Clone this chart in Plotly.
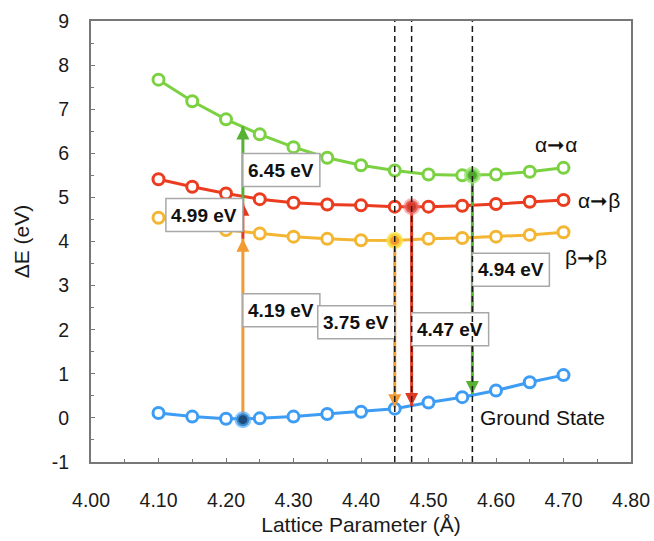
import plotly.graph_objects as go

# ---------------- data ----------------
lattice = [4.10, 4.15, 4.20, 4.25, 4.30, 4.35, 4.40, 4.45, 4.50, 4.55, 4.60, 4.65, 4.70]
alpha_alpha = [7.67, 7.18, 6.77, 6.43, 6.14, 5.90, 5.73, 5.61, 5.52, 5.50, 5.52, 5.58, 5.67]
alpha_beta = [5.41, 5.24, 5.09, 4.96, 4.88, 4.84, 4.82, 4.79, 4.79, 4.81, 4.85, 4.90, 4.94]
beta_beta = [4.54, 4.38, 4.26, 4.18, 4.11, 4.06, 4.03, 4.02, 4.06, 4.08, 4.11, 4.15, 4.21]
ground = [0.11, 0.03, -0.02, -0.01, 0.03, 0.09, 0.14, 0.21, 0.35, 0.47, 0.62, 0.81, 0.97]

series_names = ["Ground State", "β→β", "α→β", "α→α"]
series_colors = ["#3d9cf3", "#f4b632", "#eb3c1f", "#7bd142"]

# highlighted (equilibrium) points
hl_x = [4.225, 4.45, 4.475, 4.565]
hl_y = [-0.04, 4.02, 4.79, 5.50]
hl_fill = ["#1b4c7c", "#f09a2e", "#d73a2b", "#4ea52f"]
hl_halo = ["rgba(80,170,250,0.65)", "rgba(250,228,70,0.75)",
           "rgba(240,120,120,0.55)", "rgba(150,230,110,0.75)"]

# vertical transition arrows: x, start, end, colour
arrow_x = [4.225, 4.225, 4.225, 4.45, 4.475, 4.565]
arrow_y0 = [-0.04, 4.06, 4.88, 4.02, 4.79, 5.50]
arrow_y1 = [4.06, 4.88, 6.61, 0.24, 0.27, 0.54]
arrow_col = ["#f39a33", "#e03a25", "#55b233", "#f39a33", "#e03a25", "#55b233"]

# transition energy labels: text, anchor x, side of anchor, centre y
lab_text = ["6.45 eV", "4.99 eV", "4.19 eV", "3.75 eV", "4.47 eV", "4.94 eV"]
lab_x = [4.225, 4.225, 4.225, 4.45, 4.475, 4.565]
lab_side = ["left", "right", "left", "right", "left", "left"]
lab_y = [5.62, 4.60, 2.44, 2.17, 2.01, 3.36]

# curve labels
curve_text = ["α➞α", "α➞β", "β➞β", "Ground State"]
curve_x = [4.689, 4.752, 4.734, 4.574]
curve_y = [6.19, 4.92, 3.63, 0.02]
curve_anchor = ["center", "center", "center", "left"]

# dashed guide lines
guide_x = [4.45, 4.475, 4.565]

x_ticks = [4.00, 4.10, 4.20, 4.30, 4.40, 4.50, 4.60, 4.70, 4.80]
x_ticktext = ["4.00", "4.10", "4.20", "4.30", "4.40", "4.50", "4.60", "4.70", "4.80"]
y_ticks = [-1, 0, 1, 2, 3, 4, 5, 6, 7, 8, 9]
y_ticktext = ["-1", "0", "1", "2", "3", "4", "5", "6", "7", "8", "9"]

FONT = "Liberation Sans, Arial, Helvetica, sans-serif"
BOX_W = 77
BOX_H = 33

fig = go.Figure()

series_vals = [ground, beta_beta, alpha_beta, alpha_alpha]
for name, vals, col in zip(series_names, series_vals, series_colors):
    fig.add_trace(go.Scatter(
        x=lattice, y=vals, mode="lines+markers", name=name,
        line=dict(color=col, width=3),
        marker=dict(size=11, color="white", line=dict(color=col, width=3)),
        showlegend=False, hoverinfo="skip"))

# arrow shafts
for x, y0, y1, c in zip(arrow_x, arrow_y0, arrow_y1, arrow_col):
    fig.add_trace(go.Scatter(x=[x, x], y=[y0, y1], mode="lines",
                             line=dict(color=c, width=3),
                             showlegend=False, hoverinfo="skip"))

# highlighted points
fig.add_trace(go.Scatter(
    x=hl_x, y=hl_y, mode="markers",
    marker=dict(size=13, color=hl_fill, line=dict(color=hl_halo, width=4)),
    showlegend=False, hoverinfo="skip"))

# arrow heads (tip at the data point)
for x, y0, y1, c in zip(arrow_x, arrow_y0, arrow_y1, arrow_col):
    fig.add_trace(go.Scatter(
        x=[x], y=[y1], mode="markers",
        marker=dict(symbol="arrow-up" if y1 > y0 else "arrow-down",
                    size=13, color=c, line=dict(width=0)),
        showlegend=False, hoverinfo="skip"))

shapes = []
annotations = []
for t, x, side, y in zip(lab_text, lab_x, lab_side, lab_y):
    x0, x1 = (0, BOX_W) if side == "left" else (-BOX_W, 0)
    shapes.append(dict(
        type="rect", layer="above",
        xref="x", yref="y", xsizemode="pixel", ysizemode="pixel",
        xanchor=x, yanchor=y, x0=x0, x1=x1, y0=-BOX_H / 2, y1=BOX_H / 2,
        fillcolor="white", line=dict(color="#a8a8a8", width=1.5)))
    annotations.append(dict(
        x=x, y=y, xref="x", yref="y", text="<b>" + t + "</b>", showarrow=False,
        xanchor="center", yanchor="middle",
        xshift=(BOX_W / 2 if side == "left" else -BOX_W / 2),
        font=dict(family=FONT, size=19, color="#111111")))

for gx in guide_x:
    shapes.append(dict(type="line", layer="above", xref="x", yref="paper",
                       x0=gx, x1=gx, y0=0, y1=1,
                       line=dict(color="#1a1a1a", width=1.5, dash="6px,4px")))

for t, x, y, a in zip(curve_text, curve_x, curve_y, curve_anchor):
    annotations.append(dict(x=x, y=y, text=t, showarrow=False, xanchor=a,
                            yanchor="middle",
                            font=dict(family=FONT, size=21, color="#111111")))

axis_common = dict(
    showgrid=False, zeroline=False, showline=True, mirror=True,
    linecolor="#777777", linewidth=2, automargin=False,
    ticks="inside", ticklen=4, tickcolor="#777777", tickwidth=1.2,
    tickfont=dict(family=FONT, size=19.5, color="#1a1a1a"),
)

fig.update_layout(
    width=654, height=541,
    margin=dict(l=91, r=23, t=21, b=79),
    paper_bgcolor="white", plot_bgcolor="white",
    shapes=shapes, annotations=annotations,
    xaxis=dict(range=[4.0, 4.8], tickvals=x_ticks, ticktext=x_ticktext,
               ticklabelstandoff=20,
               minor=dict(ticks="inside", dtick=0.05, tick0=4.0, ticklen=3,
                          tickcolor="#777777"),
               title=dict(text="Lattice Parameter (Å)", standoff=7,
                          font=dict(family=FONT, size=21, color="#1a1a1a")),
               **axis_common),
    yaxis=dict(range=[-1, 9], tickvals=y_ticks, ticktext=y_ticktext,
               ticklabelstandoff=16,
               minor=dict(ticks="inside", dtick=0.5, tick0=0, ticklen=3,
                          tickcolor="#777777"),
               title=dict(text="ΔE (eV)", standoff=16,
                          font=dict(family=FONT, size=21, color="#1a1a1a")),
               **axis_common),
)

fig.write_html("out.html",
               config={"displayModeBar": False},
               post_script="document.body.style.margin='0px';")
